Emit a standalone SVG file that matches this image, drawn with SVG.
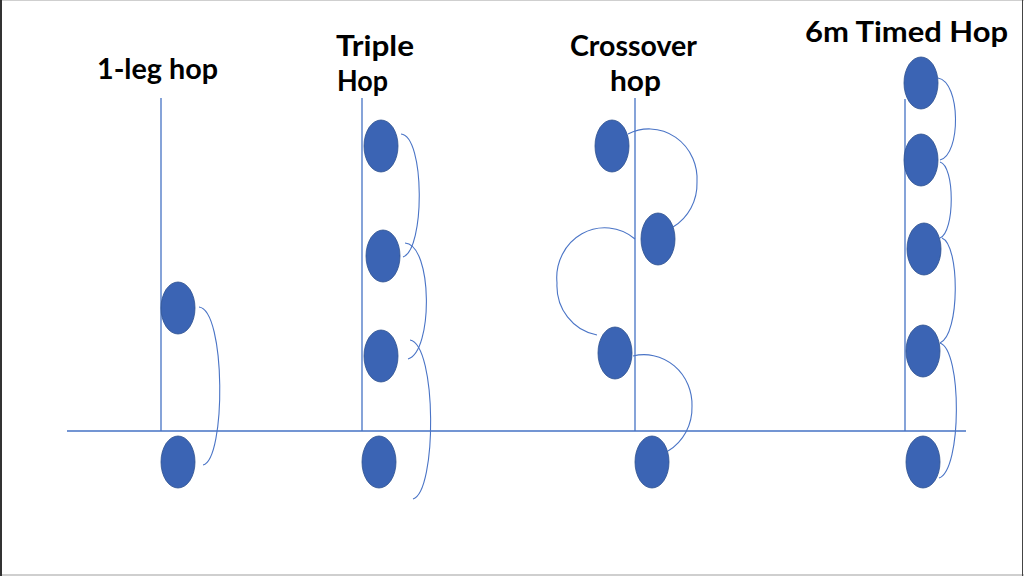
<svg xmlns="http://www.w3.org/2000/svg" width="1024" height="576" viewBox="0 0 1024 576">
<style>
.lbl{font-family:Lato,"Open Sans","Liberation Sans",sans-serif;font-weight:bold;fill:#000}
.axis{stroke:#4472c4;stroke-width:1.3;fill:none}
.arc{stroke:#4a74c6;stroke-width:1.1;fill:none}
.foot{fill:#3b64b4;stroke:#2f528f;stroke-width:0.8}
</style>
<rect x="0" y="0" width="1024" height="576" fill="#fff"/>
<line x1="0" y1="0.5" x2="1024" y2="0.5" stroke="#cfcfcf" stroke-width="1"/>
<line x1="0" y1="575" x2="1024" y2="575" stroke="#cfcfcf" stroke-width="2"/>
<line x1="1" y1="0" x2="1" y2="576" stroke="#333" stroke-width="2"/>
<line x1="1022.5" y1="0" x2="1022.5" y2="576" stroke="#444" stroke-width="1"/>

<g id="labels">
<text class="lbl" x="97" y="79" font-size="28.5" textLength="121" lengthAdjust="spacingAndGlyphs">1-leg hop</text>
<text class="lbl" x="336" y="56" font-size="29" textLength="78" lengthAdjust="spacingAndGlyphs">Triple</text>
<text class="lbl" x="337" y="91" font-size="29" textLength="51" lengthAdjust="spacingAndGlyphs">Hop</text>
<text class="lbl" x="570" y="56" font-size="29" textLength="127" lengthAdjust="spacingAndGlyphs">Crossover</text>
<text class="lbl" x="610" y="91" font-size="29" textLength="51" lengthAdjust="spacingAndGlyphs">hop</text>
<text class="lbl" x="805" y="42" font-size="29" textLength="203" lengthAdjust="spacingAndGlyphs">6m Timed Hop</text>
</g>

<g id="axes">
<line class="axis" x1="67" y1="431" x2="966" y2="431"/>
<line class="axis" x1="161" y1="98" x2="161" y2="431"/>
<line class="axis" x1="362" y1="98" x2="362" y2="431"/>
<line class="axis" x1="635" y1="98" x2="635" y2="431"/>
<line class="axis" x1="905" y1="99" x2="905" y2="431"/>
</g>

<g id="connectors">
<path class="arc" d="M199,307 C226,310 226,460 203,465"/>
<path class="arc" d="M401,134 C425,136 425,250 403,257"/>
<path class="arc" d="M405,243 C433,245 433,352 408,359"/>
<path class="arc" d="M410,340 C437,345 437,492 413,499"/>
<path class="arc" d="M628,134 A48,50 0 0 1 697,182 A48,50 0 0 1 673,227"/>
<path class="arc" d="M635,239 A48,50 0 0 0 557,283 A48,50 0 0 0 597,335"/>
<path class="arc" d="M633,356 A48,50 0 0 1 692,406 A48,50 0 0 1 668,451"/>
<path class="arc" d="M938,78 C961,82 961,155 940,160"/>
<path class="arc" d="M940,162 C955,166 955,232 940,238"/>
<path class="arc" d="M942,238 C960,245 960,335 940,343"/>
<path class="arc" d="M940,343 C962,350 962,470 939,478"/>
</g>

<g id="one-leg-hop">
<ellipse class="foot" cx="178" cy="308" rx="17" ry="26"/>
<ellipse class="foot" cx="178" cy="462" rx="17" ry="26"/>
</g>
<g id="triple-hop">
<ellipse class="foot" cx="381" cy="146" rx="17" ry="26"/>
<ellipse class="foot" cx="383" cy="256" rx="17" ry="26"/>
<ellipse class="foot" cx="381" cy="356" rx="17" ry="26"/>
<ellipse class="foot" cx="379" cy="462" rx="17" ry="26"/>
</g>
<g id="crossover-hop">
<ellipse class="foot" cx="612" cy="146" rx="17" ry="26"/>
<ellipse class="foot" cx="658" cy="239" rx="17" ry="26"/>
<ellipse class="foot" cx="615" cy="353" rx="17" ry="26"/>
<ellipse class="foot" cx="652" cy="462" rx="17" ry="26"/>
</g>
<g id="timed-hop">
<ellipse class="foot" cx="921" cy="83" rx="17" ry="26"/>
<ellipse class="foot" cx="921" cy="160" rx="17" ry="26"/>
<ellipse class="foot" cx="924" cy="249" rx="17" ry="26"/>
<ellipse class="foot" cx="923" cy="351" rx="17" ry="26"/>
<ellipse class="foot" cx="923" cy="462" rx="17" ry="26"/>
</g>
</svg>
